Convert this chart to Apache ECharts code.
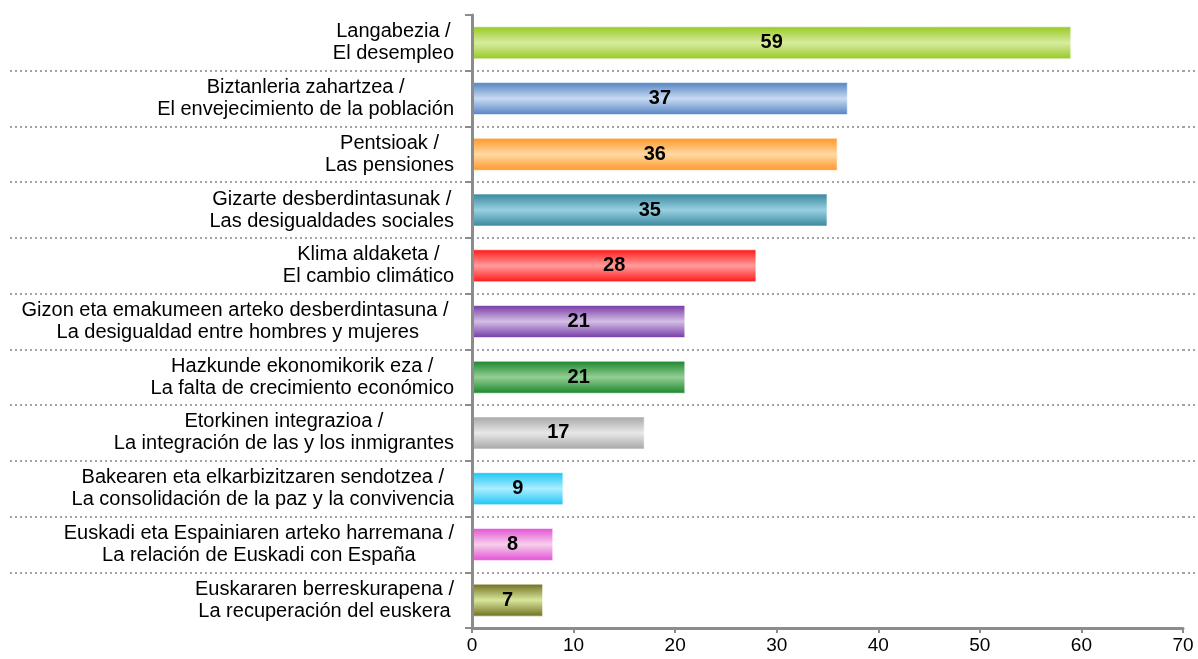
<!DOCTYPE html>
<html>
<head>
<meta charset="utf-8">
<script src="https://cdn.jsdelivr.net/npm/echarts@6/dist/echarts.min.js"></script>
<style>
  html, body { margin: 0; padding: 0; background: #fff; }
  #chart { width: 1198px; height: 659px; }
</style>
</head>
<body>
<div id="chart"></div>
<script>
// categorias (euskara / castellano)
var categories = [
    'Langabezia /\nEl desempleo',
    'Biztanleria zahartzea /\nEl envejecimiento de la población',
    'Pentsioak /\nLas pensiones',
    'Gizarte desberdintasunak /\nLas desigualdades sociales',
    'Klima aldaketa /\nEl cambio climático',
    'Gizon eta emakumeen arteko desberdintasuna / \nLa desigualdad entre hombres y mujeres',
    'Hazkunde ekonomikorik eza /\nLa falta de crecimiento económico',
    'Etorkinen integrazioa /\nLa integración de las y los inmigrantes',
    'Bakearen eta elkarbizitzaren sendotzea /\nLa consolidación de la paz y la convivencia',
    'Euskadi eta Espainiaren arteko harremana /\nLa relación de Euskadi con España',
    'Euskararen berreskurapena /\nLa recuperación del euskera'
];
var values = [59, 37, 36, 35, 28, 21, 21, 17, 9, 8, 7];
var xTicks = [0, 10, 20, 30, 40, 50, 60, 70];

// colores de cada barra: borde oscuro / centro claro
var edgeColors = ['#96c823', '#5282c2', '#ff9628', '#37879d', '#ff1616', '#7636a6', '#18862a', '#a6a6a6', '#1cc4f6', '#e250d6', '#6e6e1e'];
var midColors  = ['#d8ec9e', '#c8daf1', '#ffd9a2', '#98d0e0', '#ff9c9c', '#d2bfe4', '#94ce94', '#e8e8e8', '#aaeeff', '#f6cfea', '#d8e69c'];

// lineas separadoras entre categorias (limites de banda)
var bounds = [];
for (var i = 0; i <= categories.length; i++) bounds.push(String(i));
function innerBound(idx) { return idx > 0 && idx < categories.length; }

var barData = [];
for (var j = 0; j < values.length; j++) {
    barData.push({
        value: values[j],
        itemStyle: {
            color: new echarts.graphic.LinearGradient(0, 0, 0, 1, [
                {offset: 0, color: edgeColors[j]},
                {offset: 0.5, color: midColors[j]},
                {offset: 1, color: edgeColors[j]}
            ]),
            borderColor: 'rgba(255,255,255,0.6)',
            borderWidth: 1
        }
    });
}

var dotted = {color: '#a3a3a3', width: 2, type: [2, 3]};

var option = {
    animation: false,
    textStyle: {fontFamily: 'Liberation Sans, Arial, sans-serif'},
    grid: {left: 472, right: 15, top: 15, bottom: 31, containLabel: false},
    xAxis: {
        type: 'value',
        min: xTicks[0],
        max: xTicks[xTicks.length - 1],
        interval: 10,
        axisLine: {show: true, lineStyle: {color: '#8c8c8c', width: 3}},
        axisTick: {show: true, length: 5, lineStyle: {color: '#8c8c8c', width: 2}},
        axisLabel: {color: '#000', fontSize: 19, margin: 8},
        splitLine: {show: false}
    },
    yAxis: [
        {
            type: 'category',
            data: categories,
            inverse: true,
            z: 5,
            axisLine: {show: true, lineStyle: {color: '#8c8c8c', width: 3}},
            axisTick: {show: true, length: 7, interval: 0, lineStyle: {color: '#8c8c8c', width: 2}},
            axisLabel: {
                margin: 18,
                interval: 0,
                color: '#000',
                fontSize: 20,
                formatter: function (v) {
                    return v.split('\n').map(function (s) { return '{c|' + s + '}'; }).join('\n');
                },
                rich: {c: {align: 'center', fontSize: 20, lineHeight: 22, color: '#000'}}
            },
            splitLine: {show: false}
        },
        {
            type: 'category',
            data: bounds,
            boundaryGap: false,
            inverse: true,
            position: 'left',
            offset: 0,
            axisLine: {show: false},
            axisLabel: {show: false},
            axisTick: {show: true, length: 462, interval: function (idx) { return innerBound(idx); }, lineStyle: dotted},
            splitLine: {show: true, interval: function (idx) { return innerBound(idx); }, lineStyle: dotted}
        },
        {
            type: 'category',
            data: bounds,
            boundaryGap: false,
            inverse: true,
            position: 'right',
            offset: 0,
            axisLine: {show: false},
            axisLabel: {show: false},
            axisTick: {show: true, length: 15, interval: function (idx) { return innerBound(idx); }, lineStyle: dotted},
            splitLine: {show: false}
        }
    ],
    series: [
        {
            type: 'bar',
            yAxisIndex: 0,
            barWidth: 33,
            data: barData,
            z: 3,
            label: {
                show: true,
                position: 'inside',
                color: '#000',
                fontWeight: 'bold',
                fontSize: 20
            }
        }
    ]
};

var myChart = echarts.init(document.getElementById('chart'));
myChart.setOption(option);
</script>
</body>
</html>
